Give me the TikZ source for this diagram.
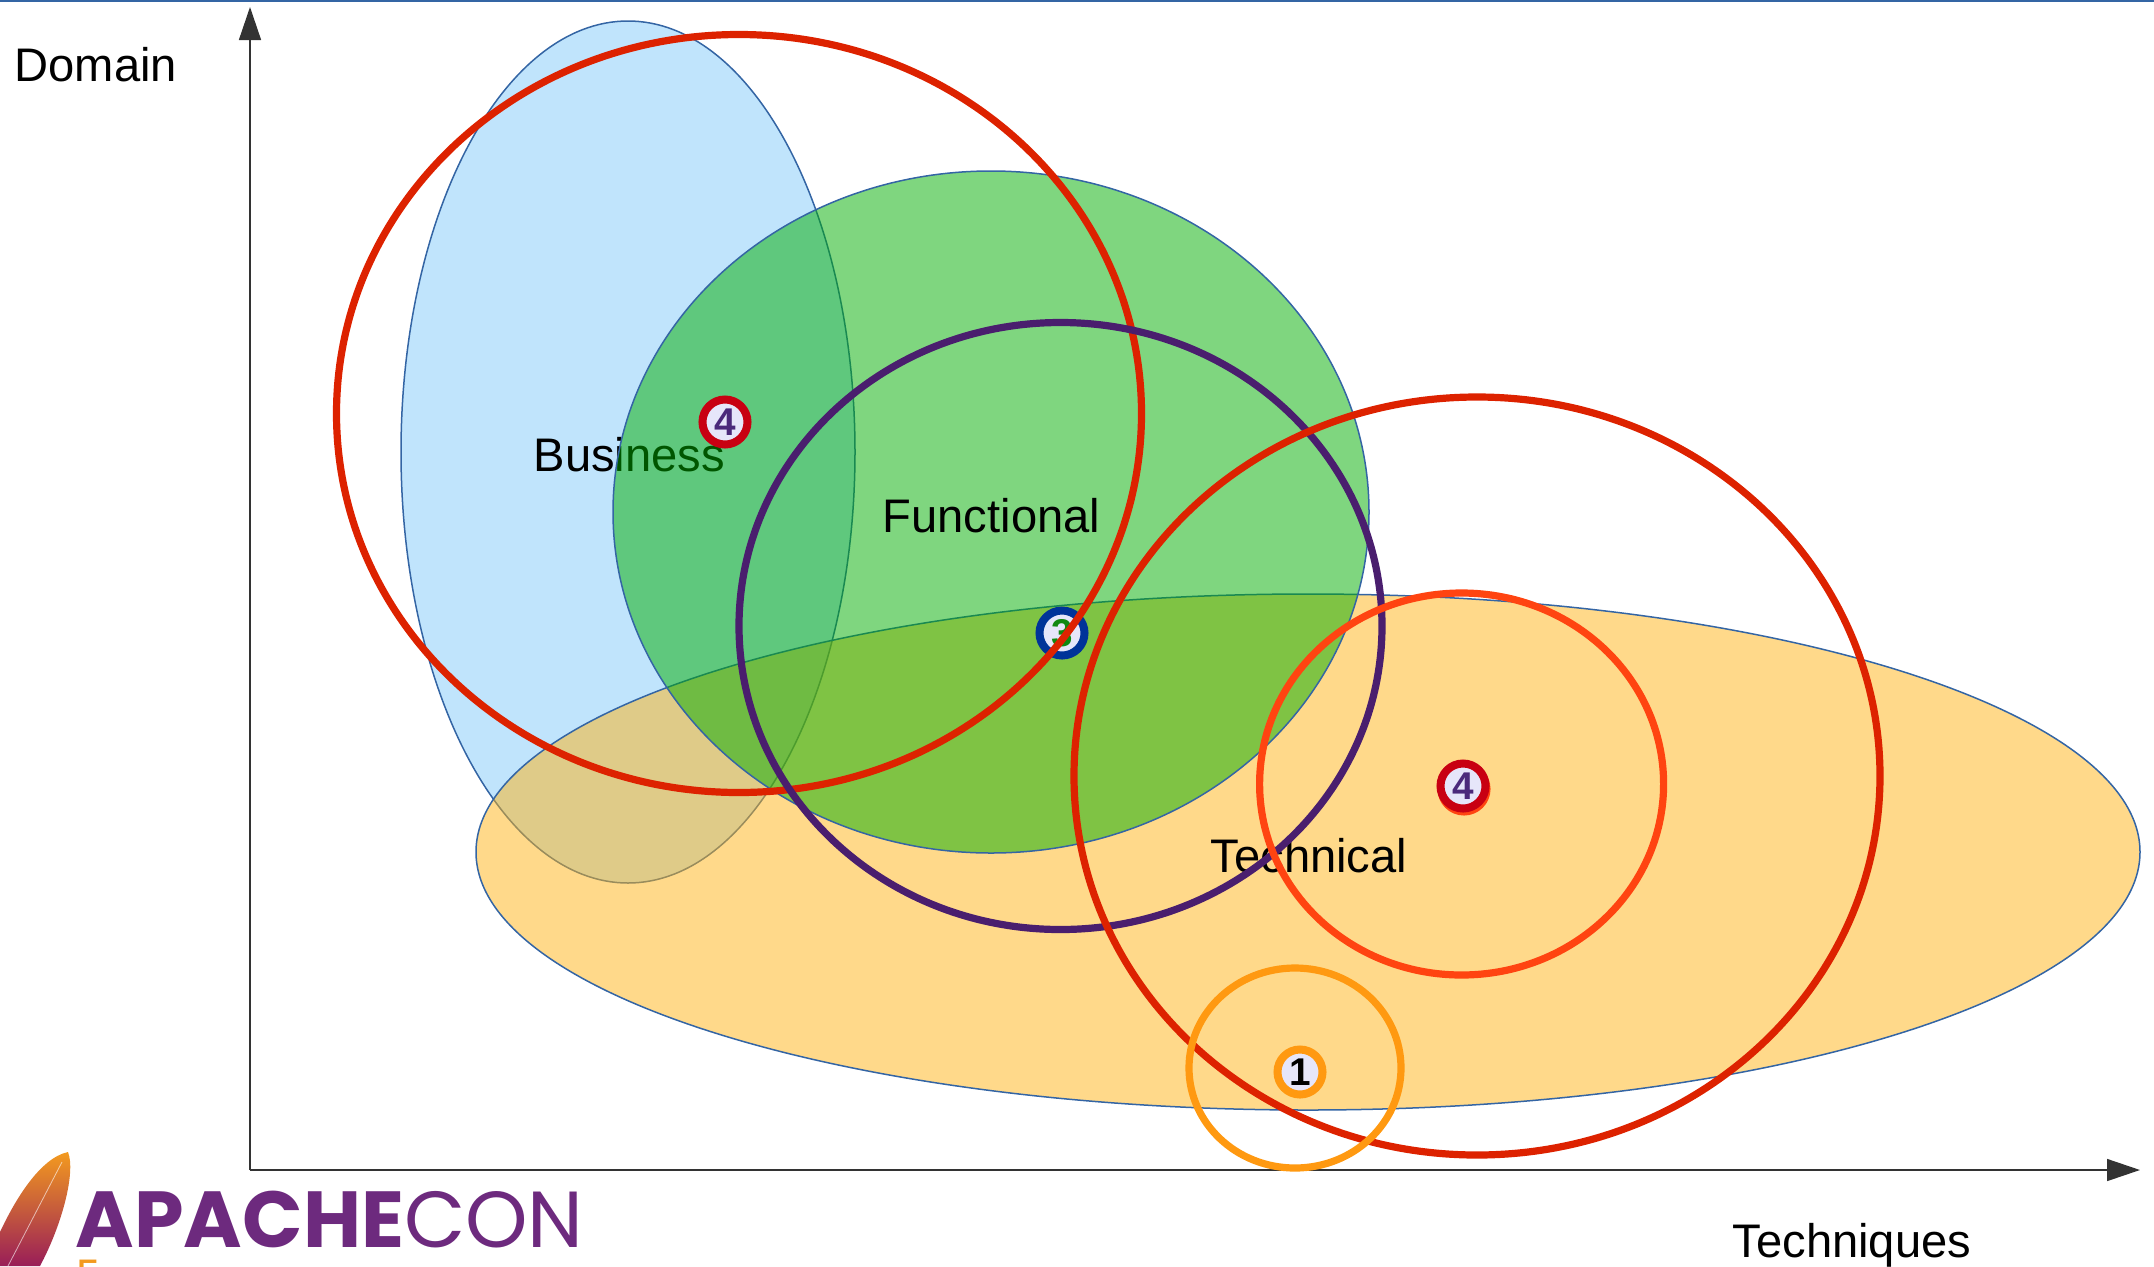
\documentclass[tikz,border=0pt]{standalone}
\usepackage{fontspec}
\setmainfont{Liberation Sans}
\newfontfamily\logofont{Poppins}
\usepackage{tikz}
\usepackage{tkz-euclide}
\usetikzlibrary{arrows.meta}
\definecolor{edgeblue}{HTML}{3465A4}
\definecolor{bizblue}{HTML}{C0E4FC}
\definecolor{funcgreen}{HTML}{00AD00}
\definecolor{techorange}{HTML}{FFB315}
\definecolor{bigred}{HTML}{DD2200}
\definecolor{midred}{HTML}{FF4411}
\definecolor{smallorange}{HTML}{FF9911}
\definecolor{darkpurple}{HTML}{4A1E6E}
\definecolor{badgefill}{HTML}{E6E6FA}
\definecolor{ringred}{HTML}{C80012}
\definecolor{ringblue}{HTML}{003399}
\definecolor{digitpurple}{HTML}{4B2A7B}
\definecolor{digitgreen}{HTML}{118811}
\definecolor{axisgray}{HTML}{333333}
\definecolor{logopurple}{HTML}{6D2A7E}
\definecolor{logoorange}{HTML}{F39A1F}
\tikzset{
  area/.style={draw=edgeblue,line width=0.015cm},
  ring/.style={line width=0.072cm},
  badge/.style={circle,draw=#1,line width=0.08cm,fill=badgefill,minimum size=0.45cm,inner sep=0,
    font=\fontsize{11pt}{11pt}\selectfont\bfseries},
  tag/.style={anchor=base west,inner sep=0,font=\fontsize{13.4pt}{16pt}\selectfont},
  axis/.style={draw=axisgray,line width=0.015cm,-{Triangle[length=0.33cm,width=0.22cm]}}
}

\begin{document}
\begin{tikzpicture}[x=0.01cm,y=-0.01cm]
    \useasboundingbox (0,0) rectangle (2154,1266);
    \tkzDefPoints{250/1170/O,250/7/Y,2140/1170/X,628/452/B,991/512/F,1308/852/T}
    \tkzDefPoints{739/413.5/R,1477/776/S,1060.5/626/P,1461.6/784/Q,1295/1068/U}
    \draw[edgeblue,line width=0.02cm] (0,1) -- (2154,1);
    \draw[area,fill=bizblue] (B) ellipse [x radius=227,y radius=431];
    \node[tag] (business) at (533,471) {Business};
    \draw[area,fill=techorange,fill opacity=0.5] (T) ellipse [x radius=832,y radius=258];
    \draw[area,fill=funcgreen,fill opacity=0.5] (F) ellipse [x radius=378,y radius=341];
    \node[tag] (functional) at (882,532) {Functional};
    \node[tag] (technical) at (1210,872) {Technical};
    \node[tag] (domain) at (14,81) {Domain};
    \node[tag] (techniques) at (1732,1257) {Techniques};
    \draw[axis] (O) -- (Y);
    \draw[axis] (O) -- (X);
    \node[badge=ringred,text=digitpurple] (fourleft) at (725,422) {4};
    \node[badge=ringblue,text=digitgreen] (three) at (1062,633) {3};
    \node[badge=midred] (shadow) at (1464,789) {};
    \node[badge=ringred,text=digitpurple] (fourright) at (1463,786) {4};
    \node[badge=smallorange,text=black] (one) at (1300,1072) {1};
    \draw[ring,bigred] (R) ellipse [x radius=402.5,y radius=379];
    \draw[ring,darkpurple] (P) ellipse [x radius=321.5,y radius=303.5];
    \draw[ring,bigred] (S) ellipse [x radius=403,y radius=379];
    \draw[ring,midred] (Q) ellipse [x radius=202,y radius=191];
    \draw[ring,smallorange] (U) ellipse [x radius=106,y radius=100];
    \shade[top color=logoorange,middle color=red!80!black,bottom color=logopurple!70!red]
      (68,1152) .. controls (76,1172) and (62,1225) .. (40,1266) -- (0,1266) -- (0,1232)
      .. controls (15,1200) and (40,1158) .. (68,1152) -- cycle;
    \draw[white,opacity=0.6,line width=0.008cm] (62,1162) -- (8,1266);
    \node[anchor=base west,inner sep=0,text=logopurple,font=\logofont\fontsize{22.6pt}{23pt}\selectfont]
      (apachecon) at (75,1247) {\textbf{APACHE}CON};
    \node[anchor=base west,inner sep=0,text=logoorange,font=\logofont\fontsize{12.8pt}{13pt}\selectfont]
      (edition) at (76,1291) {E};
\end{tikzpicture}
\end{document}
